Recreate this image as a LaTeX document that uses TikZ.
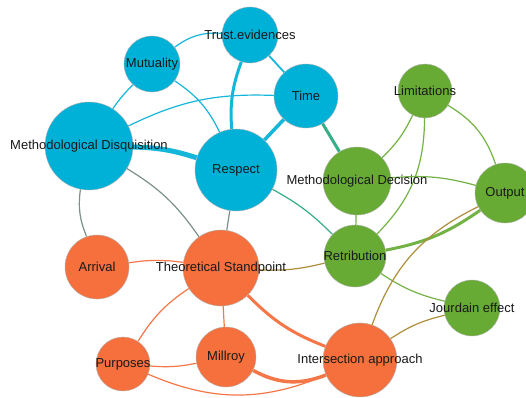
\documentclass[tikz,border=0pt]{standalone}
\usepackage{fontspec}
\setmainfont{Liberation Sans}
\usetikzlibrary{backgrounds}
\definecolor{cblue}{HTML}{00B1D7}
\definecolor{cgreen}{HTML}{67AB35}
\definecolor{corange}{HTML}{F5703D}
\tikzset{
  vtx/.style={circle, draw=black!30, line width=0.4pt, inner sep=0pt, minimum size=#1},
  bnode/.style={vtx=#1, fill=cblue},
  gnode/.style={vtx=#1, fill=cgreen},
  onode/.style={vtx=#1, fill=corange},
  lbl/.style={font=\fontsize{13}{15}\selectfont, text=black!90, inner sep=0pt},
  link/.style={line width=1.2pt},
  bb/.style={link, draw=cblue!92!white},
  gg/.style={link, draw=cgreen!92!white},
  oo/.style={link, draw=corange!95!white},
  bg/.style={link, draw=cblue!50!cgreen},
  bo/.style={link, draw=cblue!50!corange},
  go/.style={link, draw=cgreen!50!corange},
}
\begin{document}
\begin{tikzpicture}[x=1pt, y=1pt]
\useasboundingbox (0,0) rectangle (526,397);

% vertices
\node[bnode=56pt, label={[lbl]center:Trust.evidences}] (trust) at (250,362) {};
\node[bnode=56pt, label={[lbl]center:Mutuality}] (mut) at (152,333) {};
\node[bnode=88pt, label={[lbl]center:Methodological Disquisition}] (md) at (89,251) {};
\node[bnode=82pt, label={[lbl]center:Respect}] (resp) at (236,227) {};
\node[bnode=64pt, label={[lbl]center:Time}] (time) at (306,301) {};
\node[gnode=54pt, label={[lbl]center:Limitations}] (lim) at (425,306) {};
\node[gnode=68pt, label={[lbl]center:Methodological Decision}] (mdec) at (357,216) {};
\node[gnode=60pt, label={[lbl]center:Output}] (out) at (505,204) {};
\node[gnode=62pt, label={[lbl]center:Retribution}] (ret) at (355,141) {};
\node[gnode=56pt, label={[lbl]center:Jourdain effect}] (jour) at (472,89) {};
\node[onode=74pt, label={[lbl]center:Intersection approach}] (inter) at (360,37) {};
\node[onode=76pt, label={[lbl]center:Theoretical Standpoint}] (ts) at (221,129) {};
\node[onode=64pt, label={[lbl]center:Arrival}] (arr) at (97,130) {};
\node[onode=54pt, label={[lbl]center:Purposes}] (purp) at (123,33) {};
\node[onode=60pt, label={[lbl]center:Millroy}] (mill) at (226,40) {};

% links, behind the vertices
\begin{scope}[on background layer]
  \fill[white] (0,0) rectangle (526,397);
  \draw[bb] (mut) to[bend left=20] (trust);
  \draw[bb] (mut) to[bend right=5] (md);
  \draw[bb] (mut) to[bend left=15] (resp);
  \draw[bb] (md) to[bend left=14] (time);
  \draw[bb, line width=5pt] (md) to[bend left=8] (resp);
  \draw[bb, line width=3pt] (trust) to[bend right=12] (resp);
  \draw[bb, line width=1.8pt] (trust) to (time);
  \draw[bb, line width=3.5pt] (time) to (resp);
  \draw[bg, line width=3pt] (time) to (mdec);
  \draw[bg] (resp) to[bend left=8] (ret);
  \draw[bo] (md) to[bend left=12] (ts);
  \draw[bo] (md) to[bend right=15] (arr);
  \draw[bo] (resp) to (ts);
  \draw[gg] (lim) to[bend left=10] (mdec);
  \draw[gg] (lim) to[bend left=22] (ret);
  \draw[gg] (lim) to[bend left=20] (out);
  \draw[gg] (mdec) to[bend left=10] (out);
  \draw[gg] (mdec) to (ret);
  \draw[gg, line width=3pt] (ret) to[bend right=12] (out);
  \draw[gg] (ret) to[bend right=10] (jour);
  \draw[go] (ts) to[bend right=8] (ret);
  \draw[go] (inter) to[bend left=22] (out);
  \draw[go] (inter) to[bend left=10] (jour);
  \draw[oo] (arr) to[bend left=8] (ts);
  \draw[oo] (ts) to[bend right=12] (purp);
  \draw[oo] (ts) to (mill);
  \draw[oo, line width=3pt] (ts) to[bend right=12] (inter);
  \draw[oo] (purp) to[bend right=8] (mill);
  \draw[oo] (purp) to[bend right=23] (inter);
  \draw[oo, line width=3.5pt] (mill) to[bend right=25] (inter);
\end{scope}
\end{tikzpicture}
\end{document}
